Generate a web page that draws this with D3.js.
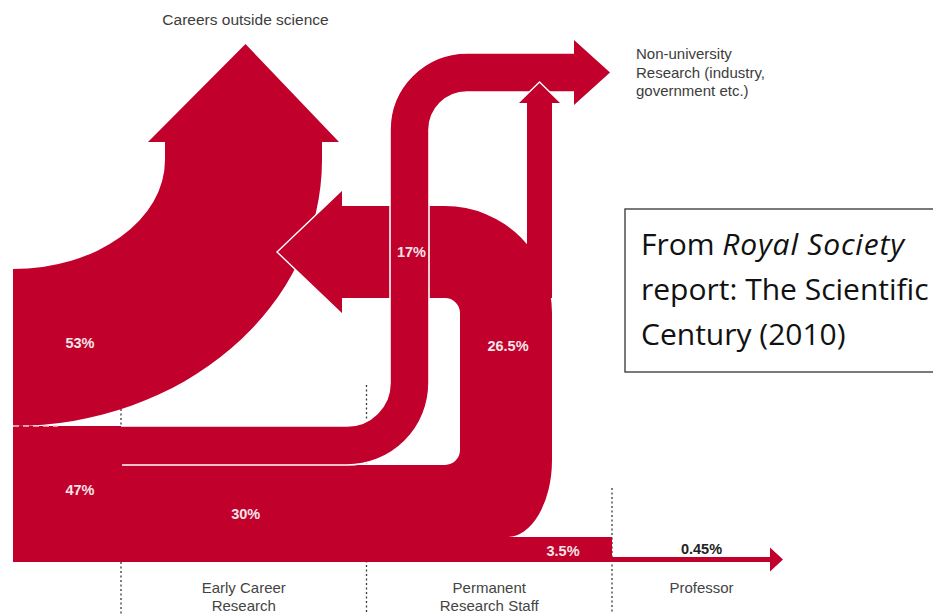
<!DOCTYPE html>
<html>
<head>
<meta charset="utf-8">
<script src="https://cdn.jsdelivr.net/npm/d3@7"></script>
<style>
  body { margin: 0; background: #fff; }
  text { font-family: "Liberation Sans", Arial, sans-serif; }
</style>
</head>
<body>
<svg id="flow"></svg>
<script>
// career stages along the bottom
const stageNames = [["Early Career", "Research"], ["Permanent", "Research Staff"], ["Professor"]];
// destinations of the people who leave
const exitNames = [["Careers outside science"], ["Non-university", "Research (industry,", "government etc.)"]];
// flows, in % of science PhD graduates
const flowNames = ["PhD to outside science", "PhD to early career", "early career to non-university",
                   "early career to permanent staff", "permanent staff leaving", "permanent staff staying", "professor"];
const flowValues = [53, 47, 17, 30, 26.5, 3.5, 0.45];
// split of the 26.5% leaving permanent staff (no numbers in the source, estimated from the arrows)
const leaverNames = ["Careers outside science", "Non-university Research"];
const leaverValues = [23, 3.5];

const W = 933, H = 614;
const red = "#c1002c";
const labelColor = "#f5e4e7";

const svg = d3.select("#flow").attr("width", W).attr("height", H);

// the original artwork is not drawn to scale, so band widths follow the widths it uses
const band = d3.scaleLinear()
    .domain([0, 0.45, 3.5, 17, 26.5, 30, 53])
    .range([0, 5, 25, 39, 92, 97, 157]);

// stage boundaries (dotted lines)
const stageX = d3.scaleLinear().domain([1, 3]).range([121, 612]);

const [v53, v47, v17, v30, v26, v35, v045] = flowValues;
const t53 = band(v53), t17 = band(v17), t30 = band(v30), t47 = t17 + t30;
const t26 = band(v26), t35 = band(v35), t045 = band(v045), tNU = band(leaverValues[1]);

const x0 = 13, yBase = 562;
const y47 = yBase - t47;
const y53 = y47 - t53;
const y30 = yBase - t30;
const y35 = yBase - t35;

// dotted stage dividers, behind everything
const dividerTop = [400, 385, 488];
svg.selectAll(".divider").data([1, 2, 3]).enter()
    .append("line")
    .attr("class", "divider")
    .attr("x1", d => stageX(d)).attr("x2", d => stageX(d))
    .attr("y1", (d, i) => dividerTop[i]).attr("y2", H)
    .attr("stroke", "#3a3a3a")
    .attr("stroke-width", 1.3)
    .attr("stroke-dasharray", "2,2.5");

// 53% band curving up to careers outside science
const cy = 160, rIn = 152;
const sL = x0 + rIn, sR = sL + t53;
const headBase = 142, headTip = 44, over = 17;
const pathA = `M${x0},${y53} A${rIn},${y53 - cy} 0 0 0 ${sL},${cy} L${sL},${headBase} L${sL - over},${headBase}
  L${(sL + sR) / 2 + 2},${headTip} L${sR + over},${headBase} L${sR},${headBase} L${sR},${cy}
  A${rIn + t53},${y47 - cy} 0 0 1 ${x0},${y47} Z`;
svg.append("path").attr("d", pathA).attr("fill", red);

// 30% band, rising as 26.5% and turning back left, 3.5% staying on
const xR = 552, xL = xR - t26, rc = 15;
const yArrB = 298, yArrT = yArrB - t26, yArrC = (yArrT + yArrB) / 2;
const lBase = 342, lTip = 277, overL = 16;
const botRx = 45, botRy = 77;
const pathD = `M${x0},${y47} L${stageX(1)},${y47} L${stageX(1)},${y30} L${xL - rc},${y30}
  A${rc},${rc} 0 0 0 ${xL},${y30 - rc} L${xL},${yArrB + rc} A${rc},${rc} 0 0 0 ${xL - rc},${yArrB}
  L${lBase},${yArrB} L${lBase},${yArrB + overL} L${lTip},${yArrC} L${lBase},${yArrT - overL} L${lBase},${yArrT}
  L${xL - rc},${yArrT} A${t26 + rc},${t26 + rc} 0 0 1 ${xR},${yArrB + rc}
  L${xR},${y35 - botRy} A${botRx},${botRy} 0 0 1 ${xR - botRx},${y35}
  L${stageX(3)},${y35} L${stageX(3)},${yBase} L${x0},${yBase} Z`;
svg.append("path").attr("d", pathD).attr("fill", red);
svg.append("path")
    .attr("d", `M${lBase},${yArrB + overL} L${lTip},${yArrC} L${lBase},${yArrT - overL}`)
    .attr("fill", "none").attr("stroke", "#fff").attr("stroke-width", 1.4);

// 17% band from early career up to non-university research
const vx = 390, r1 = 43, yTop17 = 53, r2 = 38;
const c1x = vx - r1, c1y = y47 - r1;
const xi = vx + t17, yb17 = yTop17 + t17;
const c2x = xi + r2, c2y = yb17 + r2;
const sEnd17 = 574, tip17 = 610, over17 = 13;
const path17 = `M${x0},${y47} L${c1x},${y47} A${r1},${r1} 0 0 0 ${vx},${c1y} L${vx},${c2y}
  A${r2 + t17},${r2 + t17} 0 0 1 ${c2x},${yTop17} L${sEnd17},${yTop17} L${sEnd17},${yTop17 - over17}
  L${tip17},${(yTop17 + yb17) / 2} L${sEnd17},${yb17 + over17} L${sEnd17},${yb17} L${c2x},${yb17}
  A${r2},${r2} 0 0 0 ${xi},${c2y} L${xi},${c1y} A${r1 + t17},${r1 + t17} 0 0 1 ${c1x},${y30} L${x0},${y30} Z`;
svg.append("path").attr("d", path17).attr("fill", red);
const edge17 = `M${stageX(1)},${y47} L${c1x},${y47} A${r1},${r1} 0 0 0 ${vx},${c1y} L${vx},${c2y}
  A${r2 + t17},${r2 + t17} 0 0 1 ${c2x},${yTop17} L${sEnd17},${yTop17}
  M${stageX(1) + 1},${y30} L${c1x},${y30} A${r1 + t17},${r1 + t17} 0 0 0 ${xi},${c1y} L${xi},${c2y}
  A${r2},${r2} 0 0 1 ${c2x},${yb17} L${sEnd17},${yb17}`;
svg.append("path").attr("d", edge17)
    .attr("fill", "none").attr("stroke", "#fff").attr("stroke-width", 1.6);

// thin arrow from permanent staff to non-university research
const nuL = xR - tNU, nuBase = 103, nuTip = 82, overNU = 9;
const nuMid = (nuL + xR) / 2;
svg.append("path")
    .attr("d", `M${nuL},${yArrB} L${nuL},${nuBase} L${nuL - overNU},${nuBase} L${nuMid},${nuTip}
      L${xR + overNU},${nuBase} L${xR},${nuBase} L${xR},${yArrB} Z`)
    .attr("fill", red);
svg.append("path")
    .attr("d", `M${nuL - overNU},${nuBase} L${nuMid},${nuTip} L${xR + overNU},${nuBase}`)
    .attr("fill", "none").attr("stroke", "#fff").attr("stroke-width", 1.4);

// 0.45% to professor
const profEnd = 783, profHead = 13, overP = 9.5;
const yp0 = yBase - t045;
svg.append("path")
    .attr("d", `M${stageX(3) - 1},${yp0} L${profEnd - profHead},${yp0} L${profEnd - profHead},${yp0 - overP}
      L${profEnd},${(yp0 + yBase) / 2} L${profEnd - profHead},${yBase + overP} L${profEnd - profHead},${yBase}
      L${stageX(3) - 1},${yBase} Z`)
    .attr("fill", red);

// dashed split between the 53% and 47% at the start
svg.append("line")
    .attr("x1", x0).attr("x2", 58).attr("y1", y47).attr("y2", y47)
    .attr("stroke", "#f4c9d1").attr("stroke-width", 1.6).attr("stroke-dasharray", "6,4");

// percentage labels
const fmt = v => v + "%";
const labelPos = [
    [80, (y53 + y47) / 2 - 5],
    [80, (y47 + yBase) / 2 - 4],
    [(vx + xi) / 2 + 2, yArrC],
    [(stageX(1) + stageX(2)) / 2 + 2, (y30 + yBase) / 2],
    [(xL + xR) / 2 + 2, 346],
    [stageX(3) - 49, (y35 + yBase) / 2 + 1],
    [(stageX(3) + profEnd) / 2 + 4, 549]
];
svg.selectAll(".pct").data(flowValues).enter()
    .append("text")
    .attr("class", "pct")
    .attr("x", (d, i) => labelPos[i][0])
    .attr("y", (d, i) => labelPos[i][1] + 5)
    .attr("text-anchor", "middle")
    .attr("font-size", 14.5)
    .attr("font-weight", "bold")
    .attr("fill", (d, i) => i === 6 ? "#222" : labelColor)
    .text(fmt);

// destination labels
svg.append("text")
    .attr("x", (sL + sR) / 2 + 2).attr("y", 25)
    .attr("text-anchor", "middle").attr("font-size", 15.5).attr("fill", "#3c3c3c")
    .text(exitNames[0][0]);
svg.append("text")
    .attr("x", 636).attr("y", 59)
    .attr("font-size", 15).attr("fill", "#3c3c3c")
    .selectAll("tspan").data(exitNames[1]).enter()
    .append("tspan")
    .attr("x", 636).attr("dy", (d, i) => i ? 18.5 : 0)
    .text(d => d);

// stage labels
const stageMid = [(stageX(1) + stageX(2)) / 2, (stageX(2) + stageX(3)) / 2, (stageX(3) + profEnd) / 2 + 4];
const stageLbl = svg.selectAll(".stage").data(stageNames).enter()
    .append("text")
    .attr("class", "stage")
    .attr("x", (d, i) => stageMid[i]).attr("y", 593)
    .attr("text-anchor", "middle").attr("font-size", 15).attr("fill", "#444");
stageLbl.selectAll("tspan").data((d, i) => d.map(s => [s, stageMid[i]])).enter()
    .append("tspan")
    .attr("x", d => d[1]).attr("dy", (d, i) => i ? 18 : 0)
    .text(d => d[0]);

// citation box
const note = svg.append("g");
note.append("rect")
    .attr("x", 625).attr("y", 209).attr("width", 400).attr("height", 163)
    .attr("fill", "#fff").attr("stroke", "#333").attr("stroke-width", 1.3);
const noteText = note.append("text")
    .attr("x", 641).attr("y", 255)
    .attr("font-size", 30).attr("fill", "#111")
    .style("font-family", "'Open Sans', 'Noto Sans', sans-serif");
const l1 = noteText.append("tspan").attr("x", 641);
l1.append("tspan").text("From ");
l1.append("tspan").attr("font-style", "italic").attr("letter-spacing", 0.8).text("Royal Society");
noteText.append("tspan").attr("x", 641).attr("dy", 45).text("report: The Scientific");
noteText.append("tspan").attr("x", 641).attr("dy", 45).text("Century (2010)");
</script>
</body>
</html>
